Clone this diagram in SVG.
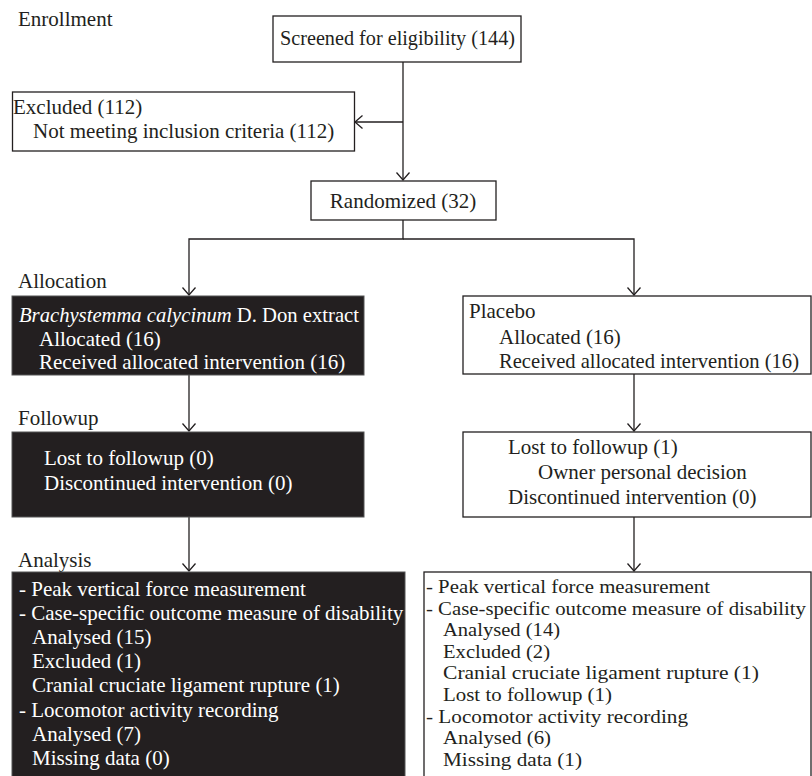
<svg xmlns="http://www.w3.org/2000/svg" width="812" height="776" viewBox="0 0 812 776">
<style>
text{font-family:"Liberation Serif","Times New Roman",serif;font-size:21px;fill:#231f20}
.w{fill:#fff}
.s{font-size:19.4px}
.box{fill:#fff;stroke:#231f20;stroke-width:1.3}
.dark{fill:#231f20;stroke:#555;stroke-width:1}
.c{fill:none;stroke:#231f20;stroke-width:1.3}
</style>
<defs>
<marker id="ah" viewBox="-9 -8 11 16" refX="0" refY="0" markerWidth="11" markerHeight="16" markerUnits="userSpaceOnUse" orient="auto">
<path d="M-7.5,-6.5 L0,0 L-7.5,6.5" fill="none" stroke="#231f20" stroke-width="1.3"/>
</marker>
</defs>
<rect width="812" height="776" fill="#fff"/>
<g id="labels">
<text x="18" y="26">Enrollment</text>
<text x="18" y="288">Allocation</text>
<text x="18" y="425">Followup</text>
<text x="18" y="567">Analysis</text>
</g>
<g id="connectors">
<path class="c" d="M403,62 V180" marker-end="url(#ah)"/>
<path class="c" d="M403,122 H355" marker-end="url(#ah)"/>
<path class="c" d="M403,220 V239 H189 V295" marker-end="url(#ah)"/>
<path class="c" d="M403,239 H634 V295" marker-end="url(#ah)"/>
<path class="c" d="M189,375 V431" marker-end="url(#ah)"/>
<path class="c" d="M189,517 V571" marker-end="url(#ah)"/>
<path class="c" d="M634,374 V431" marker-end="url(#ah)"/>
<path class="c" d="M634,517 V571" marker-end="url(#ah)"/>
</g>
<g id="screened">
<rect class="box" x="273" y="16" width="248" height="46"/>
<text x="280" y="45" textLength="235" lengthAdjust="spacingAndGlyphs">Screened for eligibility (144)</text>
</g>
<g id="excluded">
<rect class="box" x="12.5" y="92" width="342" height="59"/>
<text x="13" y="114">Excluded (112)</text>
<text x="33" y="138">Not meeting inclusion criteria (112)</text>
</g>
<g id="randomized">
<rect class="box" x="311" y="181" width="185" height="39"/>
<text x="403" y="208" text-anchor="middle">Randomized (32)</text>
</g>
<g id="alloc-left">
<rect class="dark" x="12" y="296" width="352" height="79"/>
<text class="w" x="19" y="322" textLength="340" lengthAdjust="spacingAndGlyphs"><tspan font-style="italic">Brachystemma calycinum</tspan> D. Don extract</text>
<text class="w" x="39" y="346">Allocated (16)</text>
<text class="w" x="39" y="369">Received allocated intervention (16)</text>
</g>
<g id="alloc-right">
<rect class="box" x="463" y="296" width="348" height="78"/>
<text x="469" y="318">Placebo</text>
<text x="499" y="344">Allocated (16)</text>
<text x="499" y="368" textLength="300" lengthAdjust="spacingAndGlyphs">Received allocated intervention (16)</text>
</g>
<g id="follow-left">
<rect class="dark" x="12" y="432" width="352" height="85"/>
<text class="w" x="44" y="465">Lost to followup (0)</text>
<text class="w" x="44" y="490">Discontinued intervention (0)</text>
</g>
<g id="follow-right">
<rect class="box" x="463" y="432" width="348" height="85"/>
<text x="508" y="454">Lost to followup (1)</text>
<text x="538" y="479">Owner personal decision</text>
<text x="508" y="504">Discontinued intervention (0)</text>
</g>
<g id="analysis-left">
<rect class="dark" x="12" y="572" width="393" height="210"/>
<text class="w" x="19" y="596">- Peak vertical force measurement</text>
<text class="w" x="19" y="620">- Case-specific outcome measure of disability</text>
<text class="w" x="32" y="644">Analysed (15)</text>
<text class="w" x="32" y="668">Excluded (1)</text>
<text class="w" x="32" y="692">Cranial cruciate ligament rupture (1)</text>
<text class="w" x="19" y="717">- Locomotor activity recording</text>
<text class="w" x="32" y="741">Analysed (7)</text>
<text class="w" x="32" y="765">Missing data (0)</text>
</g>
<g id="analysis-right">
<rect class="box" x="424" y="572" width="387" height="210"/>
<text class="s" x="426" y="593" textLength="284" lengthAdjust="spacingAndGlyphs">- Peak vertical force measurement</text>
<text class="s" x="426" y="614.6" textLength="380" lengthAdjust="spacingAndGlyphs">- Case-specific outcome measure of disability</text>
<text class="s" x="443" y="636.2" textLength="117" lengthAdjust="spacingAndGlyphs">Analysed (14)</text>
<text class="s" x="443" y="657.8" textLength="107" lengthAdjust="spacingAndGlyphs">Excluded (2)</text>
<text class="s" x="443" y="679.4" textLength="316" lengthAdjust="spacingAndGlyphs">Cranial cruciate ligament rupture (1)</text>
<text class="s" x="443" y="701" textLength="169" lengthAdjust="spacingAndGlyphs">Lost to followup (1)</text>
<text class="s" x="426" y="722.6" textLength="262" lengthAdjust="spacingAndGlyphs">- Locomotor activity recording</text>
<text class="s" x="443" y="744.2" textLength="108" lengthAdjust="spacingAndGlyphs">Analysed (6)</text>
<text class="s" x="443" y="765.8" textLength="139" lengthAdjust="spacingAndGlyphs">Missing data (1)</text>
</g>
</svg>
